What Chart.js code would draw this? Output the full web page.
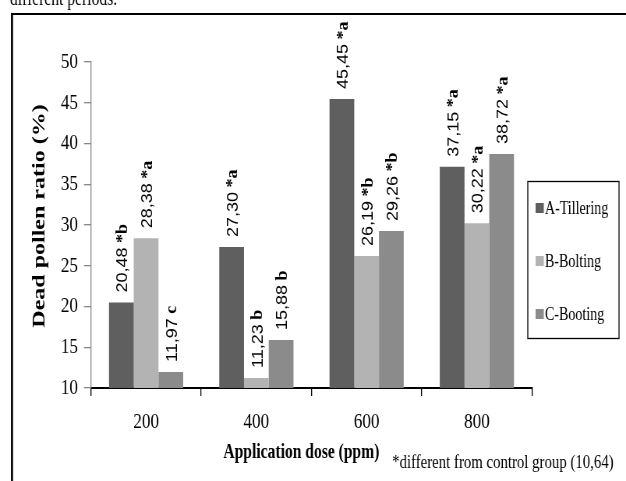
<!DOCTYPE html>
<html>
<head>
<meta charset="utf-8">
<script src="https://cdn.jsdelivr.net/npm/chart.js@4.4.1/dist/chart.umd.min.js"></script>
<style>
  html, body { margin: 0; padding: 0; background: #fff; overflow: hidden; }
  /* the original figure is horizontally squeezed, so draw wide and squeeze */
  #wrap { position: absolute; left: 0; top: 0; width: 803px; height: 481px; transform: scaleX(0.7796); transform-origin: 0 0; }
</style>
</head>
<body>
<div id="wrap"><canvas id="chart"></canvas></div>
<script>
const doses = ['200', '400', '600', '800'];
const tillering = [20.48, 27.30, 45.45, 37.15];
const bolting = [28.38, 11.23, 26.19, 30.22];
const booting = [11.97, 15.88, 29.26, 38.72];
const tilleringMarks = ['*b', '*a', '*a', '*a'];
const boltingMarks = ['*a', 'b', '*b', '*a'];
const bootingMarks = ['c', 'b', '*b', '*a'];
const yTicks = [10, 15, 20, 25, 30, 35, 40, 45, 50];

const SERIF = "'Liberation Serif', 'Times New Roman', serif";
const SANS = "'Liberation Sans', Arial, sans-serif";

const page = {
  id: 'page',
  beforeDraw(chart) {
    const ctx = chart.ctx;
    ctx.save();
    ctx.fillStyle = '#fff';
    ctx.fillRect(0, 0, chart.width, chart.height);
    ctx.fillStyle = '#000';
    ctx.font = `20px ${SERIF}`;
    ctx.textBaseline = 'alphabetic';
    ctx.fillText('different periods.', 12.8, 5);
    ctx.strokeStyle = '#000';
    ctx.lineWidth = 2;
    ctx.beginPath(); ctx.moveTo(14, 14); ctx.lineTo(chart.width, 14); ctx.stroke();
    ctx.lineWidth = 2.6;
    ctx.beginPath(); ctx.moveTo(15.4, 13); ctx.lineTo(15.4, chart.height); ctx.stroke();
    ctx.restore();
  },
  afterDraw(chart) {
    const ctx = chart.ctx;
    const area = chart.chartArea;
    ctx.save();
    ctx.fillStyle = '#000';
    ctx.textBaseline = 'middle';
    // axis titles sit a little off-centre in the original
    ctx.textAlign = 'center';
    ctx.font = `bold 20px ${SERIF}`;
    ctx.fillText('Application dose (ppm)', (area.left + area.right) / 2 - 13, 453);
    ctx.save();
    ctx.translate(51, (area.top + area.bottom) / 2 - 9);
    ctx.rotate(-Math.PI / 2);
    ctx.font = `bold 24px ${SERIF}`;
    ctx.fillText('Dead pollen ratio (%)', 0, 0);
    ctx.restore();
    ctx.textAlign = 'left';
    ctx.font = `19px ${SERIF}`;
    ctx.fillText('*different from control group (10,64)', 503, 463);
    ctx.restore();
  }
};

const barLabels = {
  id: 'barLabels',
  afterDatasetsDraw(chart) {
    const ctx = chart.ctx;
    chart.data.datasets.forEach((ds, i) => {
      chart.getDatasetMeta(i).data.forEach((bar, j) => {
        const num = ds.data[j].toFixed(2).replace('.', ',');
        const mark = ' ' + ds.marks[j];
        ctx.save();
        ctx.font = `18px ${SANS}`;
        const w1 = ctx.measureText(num).width;
        ctx.font = `bold 18px ${SERIF}`;
        const w2 = ctx.measureText(mark).width;
        let start = bar.y - 10;
        if (start - w1 - w2 < 20) start = 20 + w1 + w2;
        ctx.translate(bar.x + 2, start);
        ctx.scale(1.15, 1);
        ctx.rotate(-Math.PI / 2);
        ctx.textBaseline = 'middle';
        ctx.fillStyle = '#000';
        ctx.font = `18px ${SANS}`;
        ctx.fillText(num, 0, 0);
        ctx.font = `bold 18px ${SERIF}`;
        ctx.fillText(mark, w1, 0);
        ctx.restore();
      });
    });
  }
};

const boxLegend = {
  id: 'boxLegend',
  afterDraw(chart) {
    const ctx = chart.ctx;
    ctx.save();
    ctx.strokeStyle = '#000';
    ctx.lineWidth = 1.3;
    ctx.strokeRect(677, 181.5, 117, 157);
    ctx.font = `18px ${SERIF}`;
    ctx.textBaseline = 'middle';
    chart.data.datasets.forEach((ds, i) => {
      const y = 208 + i * 53;
      ctx.fillStyle = ds.backgroundColor;
      ctx.fillRect(687, y - 5, 10.5, 10);
      ctx.fillStyle = '#000';
      ctx.fillText(ds.label, 699, y + 1);
    });
    ctx.restore();
  }
};

new Chart(document.getElementById('chart'), {
  type: 'bar',
  data: {
    labels: doses,
    datasets: [
      { label: 'A-Tillering', data: tillering, marks: tilleringMarks, backgroundColor: '#5f5f5f' },
      { label: 'B-Bolting', data: bolting, marks: boltingMarks, backgroundColor: '#b3b3b3' },
      { label: 'C-Booting', data: booting, marks: bootingMarks, backgroundColor: '#8b8b8b' },
    ],
  },
  options: {
    responsive: true,
    maintainAspectRatio: false,
    animation: false,
    layout: { padding: { top: 62, right: 120.6, bottom: 0, left: 0 } },
    datasets: { bar: { categoryPercentage: 0.673, barPercentage: 1, borderWidth: 0 } },
    plugins: { legend: { display: false }, tooltip: { enabled: false } },
    scales: {
      x: {
        grid: { offset: true, drawOnChartArea: false, color: '#000', tickLength: 8, lineWidth: 1.3 },
        border: { color: '#000', width: 2 },
        ticks: { color: '#000', font: { family: SERIF, size: 22 }, padding: 13 },
        afterFit: (s) => { s.height = 93; },
      },
      y: {
        min: yTicks[0],
        max: yTicks[yTicks.length - 1],
        grid: { drawOnChartArea: false, color: '#888', tickLength: 9, lineWidth: 1.3 },
        border: { color: '#888', width: 1.3 },
        ticks: { stepSize: yTicks[1] - yTicks[0], color: '#000', font: { family: SERIF, size: 22 }, padding: 7.7 },
        afterFit: (s) => { s.width = 116.7; },
      },
    },
  },
  plugins: [page, barLabels, boxLegend],
});
</script>
</body>
</html>
